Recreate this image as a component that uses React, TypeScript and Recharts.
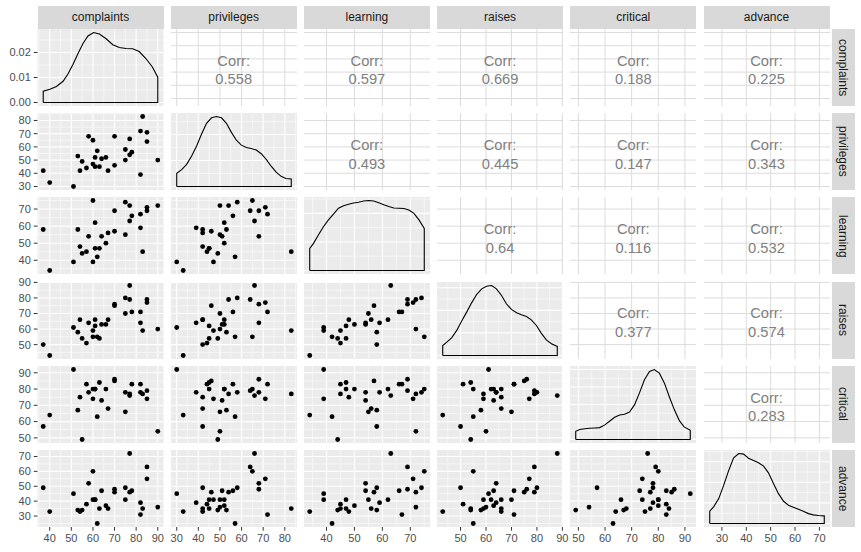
import React from "react";
import {
  ScatterChart,
  Scatter,
  LineChart,
  Line,
  XAxis,
  YAxis,
  CartesianGrid,
} from "recharts";

const varNames = ["complaints", "privileges", "learning", "raises", "critical", "advance"];

// the 30 rows, one array per variable
const complaints = [51, 64, 70, 63, 78, 55, 67, 75, 82, 61, 53, 60, 62, 83, 77, 90, 85, 60, 70, 58, 40, 61, 66, 37, 54, 77, 75, 57, 85, 82];
const privileges = [30, 51, 68, 45, 56, 49, 42, 50, 72, 45, 53, 47, 57, 83, 54, 50, 64, 65, 46, 68, 33, 52, 52, 42, 42, 66, 58, 44, 71, 39];
const learning = [39, 54, 69, 47, 66, 44, 56, 55, 67, 47, 58, 39, 42, 45, 72, 72, 69, 75, 57, 54, 34, 62, 50, 58, 48, 63, 74, 45, 71, 59];
const raises = [61, 63, 76, 54, 71, 54, 66, 70, 71, 62, 58, 59, 55, 59, 79, 60, 79, 55, 75, 64, 43, 66, 63, 50, 66, 88, 80, 51, 77, 64];
const critical = [92, 73, 86, 84, 83, 49, 68, 66, 83, 80, 67, 74, 63, 77, 77, 54, 79, 80, 85, 78, 64, 80, 80, 57, 75, 76, 78, 83, 74, 78];
const advance = [45, 47, 48, 35, 47, 34, 35, 41, 31, 41, 34, 41, 25, 35, 46, 36, 63, 60, 46, 52, 33, 41, 37, 49, 33, 72, 49, 38, 55, 39];

// density curves
const complaintsDensX = [37, 40.1, 43.1, 46.2, 48.5, 50.8, 53.1, 55.4, 57.7, 60.3, 63.0, 66.1, 69.2, 72.2, 75.3, 78.4, 81.4, 84.5, 87.5, 90];
const complaintsDensY = [0.0045, 0.0053, 0.0064, 0.0085, 0.0115, 0.0153, 0.0196, 0.0236, 0.0266, 0.028, 0.0274, 0.0255, 0.0231, 0.022, 0.0216, 0.0215, 0.0204, 0.0176, 0.0142, 0.0101];
const privilegesDensX = [30, 32.3, 34.6, 36.9, 39.2, 41.5, 43.8, 46.1, 48.4, 50.7, 53.0, 55.3, 57.6, 59.9, 62.2, 64.5, 66.8, 69.1, 71.4, 73.7, 76.0, 78.3, 80.5, 83];
const privilegesDensY = [0.0051, 0.0065, 0.0085, 0.0117, 0.0156, 0.0202, 0.0243, 0.0264, 0.0269, 0.0264, 0.0243, 0.0208, 0.0178, 0.0159, 0.015, 0.0146, 0.014, 0.0126, 0.0104, 0.0078, 0.0055, 0.0039, 0.0031, 0.0029];
const learningDensX = [34, 35.3, 37.1, 38.9, 40.7, 42.5, 44.3, 46.1, 47.9, 49.7, 51.5, 53.3, 55.1, 56.9, 58.7, 60.5, 62.3, 64.1, 65.9, 67.7, 69.5, 71.3, 73.1, 75];
const learningDensY = [0.0077, 0.0094, 0.0124, 0.0153, 0.0177, 0.0197, 0.0218, 0.0227, 0.0232, 0.0236, 0.0239, 0.0243, 0.0245, 0.0243, 0.0237, 0.023, 0.0224, 0.0219, 0.0218, 0.0217, 0.0212, 0.02, 0.0177, 0.0147];
const raisesDensX = [43, 44.6, 46.5, 48.5, 50.4, 52.4, 54.3, 56.3, 58.3, 60.2, 62.2, 64.1, 66.1, 68.0, 70.0, 72.0, 73.9, 75.9, 77.8, 79.8, 81.7, 83.7, 85.7, 88];
const raisesDensY = [0.0044, 0.0059, 0.0078, 0.0111, 0.0152, 0.0192, 0.0232, 0.027, 0.0295, 0.0307, 0.031, 0.0295, 0.0266, 0.0229, 0.0204, 0.0189, 0.018, 0.0173, 0.0158, 0.0133, 0.0099, 0.0069, 0.0052, 0.004];
const criticalDensX = [49, 50.5, 52.4, 54.2, 56.1, 58.0, 59.8, 61.7, 63.6, 65.5, 67.3, 69.2, 71.1, 72.9, 74.8, 76.7, 78.5, 80.4, 82.3, 84.1, 86.0, 87.9, 89.7, 92];
const criticalDensY = [0.0047, 0.0057, 0.0061, 0.0064, 0.0066, 0.0068, 0.0082, 0.0104, 0.0127, 0.014, 0.0144, 0.0157, 0.0199, 0.0265, 0.0341, 0.0389, 0.04, 0.0379, 0.0322, 0.0246, 0.0171, 0.0108, 0.0072, 0.0053];
const advanceDensX = [25, 26.6, 28.7, 30.7, 32.8, 34.8, 36.9, 38.9, 40.9, 43.0, 45.0, 47.1, 49.1, 51.2, 53.2, 55.3, 57.3, 59.3, 61.4, 63.4, 65.5, 67.5, 69.6, 72];
const advanceDensY = [0.006, 0.0081, 0.0121, 0.0185, 0.0258, 0.0319, 0.034, 0.0337, 0.0317, 0.0306, 0.0295, 0.0279, 0.0246, 0.0193, 0.0145, 0.0108, 0.0089, 0.0079, 0.0069, 0.006, 0.0048, 0.0042, 0.0039, 0.0037];

// upper triangle labels, row by row
const corrRows = [
  ["0.558", "0.597", "0.669", "0.188", "0.225"],
  ["0.493", "0.445", "0.147", "0.343"],
  ["0.64", "0.116", "0.532"],
  ["0.377", "0.574"],
  ["0.283"],
];

const majorTicks = [
  [40, 50, 60, 70, 80, 90],
  [30, 40, 50, 60, 70, 80],
  [40, 50, 60, 70],
  [50, 60, 70, 80, 90],
  [50, 60, 70, 80, 90],
  [30, 40, 50, 60, 70],
];
const minorTicks = [
  [35, 45, 55, 65, 75, 85],
  [35, 45, 55, 65, 75, 85],
  [35, 45, 55, 65, 75],
  [45, 55, 65, 75, 85],
  [55, 65, 75, 85],
  [25, 35, 45, 55, 65],
];
const densMajor = [0, 0.01, 0.02, 0.03, 0.04];
const densMinor = [0.005, 0.015, 0.025, 0.035, 0.045];

const columns = [complaints, privileges, learning, raises, critical, advance];
const densX = [complaintsDensX, privilegesDensX, learningDensX, raisesDensX, criticalDensX, advanceDensX];
const densY = [complaintsDensY, privilegesDensY, learningDensY, raisesDensY, criticalDensY, advanceDensY];

const X0 = 37.5;
const XSTEP = 133.2;
const PW = 126;
const Y0 = 29;
const YSTEP = 84.2;
const PH = 77;
const AXW = 37.5;
const AXH = 22;

const FONT = '"Liberation Sans", Arial, sans-serif';
const axisTick = { fill: "#4D4D4D", fontSize: 11 };

const limitsOf = (v: number[]): [number, number] => {
  const lo = Math.min(...v);
  const hi = Math.max(...v);
  const pad = (hi - lo) * 0.05;
  return [lo - pad, hi + pad];
};
const limits = columns.map(limitsOf);
const densLimits = densY.map((d) => {
  const m = Math.max(...d);
  return [-0.05 * m, 1.05 * m] as [number, number];
});
const inside = (vals: number[], lim: [number, number]) => vals.filter((v) => v >= lim[0] && v <= lim[1]);

function Panel({ r, c }: { r: number; c: number }) {
  const leftCol = c === 0;
  const bottomRow = r === 5;
  const w = PW + (leftCol ? AXW : 0);
  const h = PH + (bottomRow ? AXH : 0);
  const style: React.CSSProperties = {
    position: "absolute",
    left: X0 + c * XSTEP - (leftCol ? AXW : 0),
    top: Y0 + r * YSTEP,
    width: w,
    height: h,
  };
  const xAxis = (
    <XAxis
      type="number"
      dataKey="x"
      domain={limits[c]}
      allowDataOverflow
      ticks={majorTicks[c]}
      interval={0}
      hide={!bottomRow}
      height={AXH}
      tick={axisTick}
      tickLine={{ stroke: "#333333" }}
      axisLine={false}
      tickSize={3.7}
      tickMargin={3}
    />
  );

  if (r === c) {
    const yl = densLimits[c];
    const curve = densX[c].map((x, i) => ({ x, y: densY[c][i] }));
    const n = densX[c].length;
    const data = [
      { x: densX[c][0], y: 0 },
      ...curve,
      { x: densX[c][n - 1], y: 0 },
      { x: densX[c][0], y: 0 },
    ];
    return (
      <div style={style}>
        <LineChart width={w} height={h} data={data} margin={{ top: 0, right: 0, bottom: 0, left: 0 }}>
          <CartesianGrid
            fill="#EBEBEB"
            stroke="#FFFFFF"
            strokeWidth={0.55}
            verticalValues={minorTicks[c]}
            horizontalValues={inside(densMinor, yl)}
          />
          <CartesianGrid
            stroke="#FFFFFF"
            strokeWidth={1.1}
            verticalValues={majorTicks[c]}
            horizontalValues={inside(densMajor, yl)}
          />
          {xAxis}
          <YAxis
            type="number"
            dataKey="y"
            domain={yl}
            allowDataOverflow
            ticks={inside(densMajor, yl)}
            interval={0}
            hide={!leftCol}
            width={AXW}
            tick={axisTick}
            tickFormatter={(v: number) => v.toFixed(2)}
            tickLine={{ stroke: "#333333" }}
            axisLine={false}
            tickSize={3.7}
            tickMargin={3}
          />
          <Line
            type="linear"
            dataKey="y"
            stroke="#000000"
            strokeWidth={1.1}
            dot={false}
            isAnimationActive={false}
          />
        </LineChart>
      </div>
    );
  }

  const upper = c > r;
  const points = upper ? [] : columns[c].map((x, i) => ({ x, y: columns[r][i] }));
  return (
    <div style={style}>
      <ScatterChart width={w} height={h} margin={{ top: 0, right: 0, bottom: 0, left: 0 }}>
        {upper ? (
          <CartesianGrid
            fill="#FFFFFF"
            stroke="#DCDCDC"
            strokeWidth={1}
            verticalValues={majorTicks[c]}
            horizontalValues={majorTicks[r]}
          />
        ) : (
          <CartesianGrid
            fill="#EBEBEB"
            stroke="#FFFFFF"
            strokeWidth={0.55}
            verticalValues={minorTicks[c]}
            horizontalValues={minorTicks[r]}
          />
        )}
        {!upper && (
          <CartesianGrid
            stroke="#FFFFFF"
            strokeWidth={1.1}
            verticalValues={majorTicks[c]}
            horizontalValues={majorTicks[r]}
          />
        )}
        {xAxis}
        <YAxis
          type="number"
          dataKey="y"
          domain={limits[r]}
          allowDataOverflow
          ticks={majorTicks[r]}
          interval={0}
          hide={!leftCol}
          width={AXW}
          tick={axisTick}
          tickLine={{ stroke: "#333333" }}
          axisLine={false}
          tickSize={3.7}
          tickMargin={3}
        />
        <Scatter
          data={points}
          isAnimationActive={false}
          shape={(p: any) => <circle cx={p.cx} cy={p.cy} r={2.4} fill="#000000" />}
        />
      </ScatterChart>
    </div>
  );
}

export default function App() {
  const cells: React.ReactNode[] = [];
  for (let r = 0; r < 6; r++) {
    for (let c = 0; c < 6; c++) {
      cells.push(<Panel key={`p${r}-${c}`} r={r} c={c} />);
      if (c > r) {
        cells.push(
          <div
            key={`t${r}-${c}`}
            style={{
              position: "absolute",
              left: X0 + c * XSTEP,
              top: Y0 + r * YSTEP + 22.8,
              width: PW,
              textAlign: "center",
              fontSize: 14.7,
              lineHeight: "18.5px",
              color: "#808080",
            }}
          >
            <div>Corr:</div>
            <div>{corrRows[r][c - r - 1]}</div>
          </div>
        );
      }
    }
  }

  return (
    <div
      style={{
        position: "absolute",
        left: 0,
        top: 0,
        width: 861,
        height: 552,
        background: "#FFFFFF",
        fontFamily: FONT,
        overflow: "hidden",
      }}
    >
      <style>{`.recharts-surface, .recharts-wrapper { overflow: visible !important; }`}</style>
      {varNames.map((name, i) => (
        <div
          key={`top-${name}`}
          style={{
            position: "absolute",
            left: X0 + i * XSTEP,
            top: 6,
            width: PW,
            height: 23,
            lineHeight: "23px",
            background: "#D9D9D9",
            color: "#1A1A1A",
            fontSize: 12,
            textAlign: "center",
          }}
        >
          {name}
        </div>
      ))}
      {varNames.map((name, i) => (
        <div
          key={`side-${name}`}
          style={{
            position: "absolute",
            left: X0 + 5 * XSTEP + PW + 2,
            top: Y0 + i * YSTEP,
            width: 23,
            height: PH,
            background: "#D9D9D9",
            color: "#1A1A1A",
            fontSize: 12,
            display: "flex",
            alignItems: "center",
            justifyContent: "center",
          }}
        >
          <span style={{ writingMode: "vertical-rl" }}>{name}</span>
        </div>
      ))}
      {cells}
    </div>
  );
}
